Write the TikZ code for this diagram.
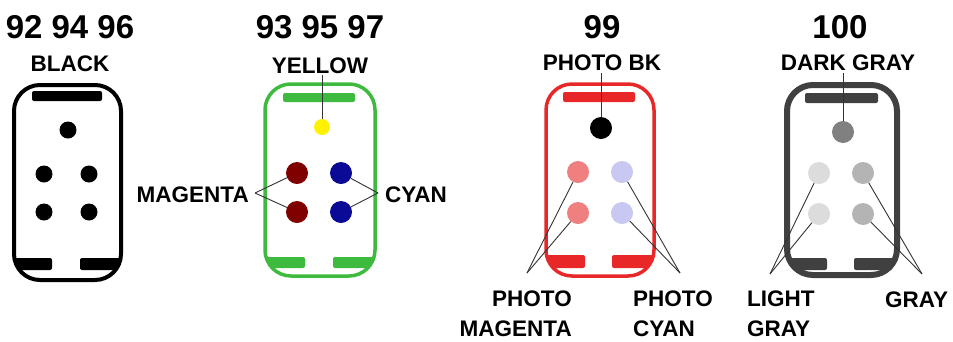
\documentclass[tikz,border=0pt]{standalone}
\usepackage{fontspec}
\setmainfont{Liberation Sans}
\definecolor{cgreen}{RGB}{62,186,62}
\definecolor{cred}{RGB}{232,40,40}
\definecolor{cgrayo}{RGB}{64,64,64}
\definecolor{cmag}{RGB}{128,0,0}
\definecolor{ccyan}{RGB}{10,10,150}
\definecolor{cpink}{RGB}{240,128,128}
\definecolor{clav}{RGB}{200,200,242}
\definecolor{clgray}{RGB}{220,220,220}
\definecolor{cmgray}{RGB}{180,180,180}
\definecolor{cdgray}{RGB}{128,128,128}
\tikzset{
  dot/.style={circle,inner sep=0pt,minimum size=22pt},
  sdot/.style={circle,inner sep=0pt,minimum size=17pt},
  num/.style={font=\bfseries\fontsize{33}{33}\selectfont,inner sep=0pt},
  lab/.style={font=\bfseries\fontsize{22.5}{30}\selectfont,inner sep=0pt},
  lead/.style={draw=black!80,line width=0.9pt},
  shell/.style={rounded corners=26pt},
  bar/.style={rounded corners=2pt}
}
\begin{document}
\begin{tikzpicture}[x=1pt,y=-1pt]
\fill[white] (0,0) rectangle (953,341);
\useasboundingbox (0,0) rectangle (953,341);

% ---------- cartridge 1: black ----------
\begin{scope}
  \clip[shell] (14,85) rectangle (121,280);
  \fill[black,bar] (32,91) rectangle (102,101);
  \fill[black,bar] (10,258) rectangle (52,270);
  \fill[black,bar] (80,258) rectangle (125,270);
\end{scope}
\draw[black,line width=4pt,shell] (14,85) rectangle (121,280);
\node[sdot,fill=black] (k0) at (68,130) {};
\node[sdot,fill=black] (k1) at (44,174) {};
\node[sdot,fill=black] (k2) at (89,174) {};
\node[sdot,fill=black] (k3) at (44,212) {};
\node[sdot,fill=black] (k4) at (89,212) {};
\node[num] (n1) at (70,27) {92 94 96};
\node[lab] (lblack) at (70,64) {BLACK};

% ---------- cartridge 2: green ----------
\begin{scope}
  \clip[shell] (265,84) rectangle (375,276);
  \fill[cgreen,bar] (283,93) rectangle (355,102);
  \fill[cgreen,bar] (262,257) rectangle (305,268);
  \fill[cgreen,bar] (333,257) rectangle (378,268);
\end{scope}
\draw[cgreen,line width=3.5pt,shell] (265,84) rectangle (375,276);
\node[circle,inner sep=0pt,minimum size=16pt,fill=yellow] (yel) at (322,127) {};
\node[dot,fill=cmag] (m1) at (297,173) {};
\node[dot,fill=cmag] (m2) at (297,212) {};
\node[dot,fill=ccyan] (c1) at (341,173) {};
\node[dot,fill=ccyan] (c2) at (341,212) {};
\node[num] (n2) at (320,27) {93 95 97};
\node[lab] (lyel) at (320,66) {YELLOW};
\node[lab,anchor=east] (lmag) at (249,195) {MAGENTA};
\node[lab,anchor=west] (lcyan) at (385,195) {CYAN};
\coordinate (yj) at (322,75);
\coordinate (mj) at (255,193);
\coordinate (cj) at (378,193);
\draw[lead] (yj) -- (yel);
\draw[lead] (mj) -- (m1);
\draw[lead] (mj) -- (m2);
\draw[lead] (cj) -- (c1);
\draw[lead] (cj) -- (c2);

% ---------- cartridge 3: red ----------
\begin{scope}
  \clip[shell] (546,84) rectangle (654,276);
  \fill[cred,bar] (563,92) rectangle (635,102);
  \fill[cred,bar] (542,255) rectangle (585,268);
  \fill[cred,bar] (612,255) rectangle (658,268);
\end{scope}
\draw[cred,line width=3.5pt,shell] (546,84) rectangle (654,276);
\node[dot,fill=black] (pbk) at (601,128) {};
\node[dot,fill=cpink] (pm1) at (578,172) {};
\node[dot,fill=cpink] (pm2) at (578,213) {};
\node[dot,fill=clav] (pc1) at (622,172) {};
\node[dot,fill=clav] (pc2) at (622,213) {};
\node[num] (n3) at (602,27) {99};
\node[lab] (lpbk) at (602,63) {PHOTO BK};
\node[lab,align=right,anchor=south east] (lpm) at (572,337) {PHOTO\\MAGENTA};
\node[lab,align=left,anchor=south west] (lpc) at (633,337) {PHOTO\\CYAN};
\coordinate (pbj) at (601,73);
\coordinate (pmj) at (527,273);
\coordinate (pcj) at (680,273);
\draw[lead] (pbj) -- (pbk);
\draw[lead] (pmj) -- (pm1);
\draw[lead] (pmj) -- (pm2);
\draw[lead] (pcj) -- (pc1);
\draw[lead] (pcj) -- (pc2);

% ---------- cartridge 4: gray ----------
\begin{scope}
  \clip[shell] (787,85) rectangle (897,275);
  \fill[cgrayo,bar] (805,93) rectangle (878,103);
  \fill[cgrayo,bar] (782,258) rectangle (827,270);
  \fill[cgrayo,bar] (854,258) rectangle (900,270);
\end{scope}
\draw[cgrayo,line width=6pt,shell] (787,85) rectangle (897,275);
\node[dot,fill=cdgray] (dg) at (843,132) {};
\node[dot,fill=clgray] (lg1) at (819,173) {};
\node[dot,fill=clgray] (lg2) at (819,214) {};
\node[dot,fill=cmgray] (g1) at (863,173) {};
\node[dot,fill=cmgray] (g2) at (863,214) {};
\node[num] (n4) at (840,27) {100};
\node[lab] (ldg) at (848,63) {DARK GRAY};
\node[lab,align=left,anchor=south west] (llg) at (747,337) {LIGHT\\GRAY};
\node[lab,anchor=base west] (lg) at (885,307) {GRAY};
\coordinate (dgj) at (843,73);
\coordinate (lgj) at (770,274);
\coordinate (gj) at (922,274);
\draw[lead] (dgj) -- (dg);
\draw[lead] (lgj) -- (lg1);
\draw[lead] (lgj) -- (lg2);
\draw[lead] (gj) -- (g1);
\draw[lead] (gj) -- (g2);
\end{tikzpicture}
\end{document}
